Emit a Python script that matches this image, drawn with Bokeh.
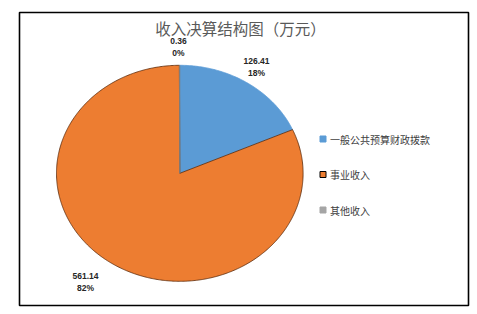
import numpy as np
from bokeh.plotting import figure
from bokeh.models import Range1d, ColumnDataSource, Label
from bokeh.core.properties import value
from bokeh.embed import file_html
from bokeh.resources import INLINE

# ---- data ----
categories = ["一般公共预算财政拨款", "事业收入", "其他收入"]
amounts = [126.41, 561.14, 0.36]
percent_labels = ["18%", "82%", "0%"]
amount_labels = ["126.41", "561.14", "0.36"]
colors = ["#5B9BD5", "#ED7D31", "#A5A5A5"]
edge_colors = ["#5B9BD5", "#5A2A0A", "#7F7F7F"]
title = "收入决算结构图（万元）"

# ---- layout (screen pixels; y grows downward) ----
W, H = 477, 314
cx, cy, rx, ry = 179.3, 172.8, 123.3, 108.0
label_pos = [(256, 66.5), (85, 281), (178, 46)]
leg_x, leg_y0, leg_dy = 322.5, 138.5, 35.5

p = figure(width=W, height=H, output_backend="svg", toolbar_location=None,
           x_range=Range1d(19, 468), y_range=Range1d(305, 12),
           min_border_left=19, min_border_top=12, min_border_right=9, min_border_bottom=9)
p.axis.visible = False
p.xgrid.visible = False
p.ygrid.visible = False
p.outline_line_color = "#000000"
p.outline_line_width = 1.6
p.background_fill_color = "white"
p.border_fill_color = "white"

total = float(sum(amounts))
start = 0.0
xs, ys = [], []
for a in amounts:
    end = start + 2 * np.pi * a / total
    n = max(3, int(np.ceil((end - start) / 0.01)))
    th = np.linspace(start, end, n)
    xs.append(list(np.concatenate([[cx], cx + rx * np.sin(th), [cx]])))
    ys.append(list(np.concatenate([[cy], cy - ry * np.cos(th), [cy]])))
    start = end

src = ColumnDataSource(dict(xs=xs, ys=ys, fill=colors, line=edge_colors))
p.patches("xs", "ys", source=src, fill_color="fill", line_color="line", line_width=0.8)

# data labels
for (lx, ly), am, pc in zip(label_pos, amount_labels, percent_labels):
    for k, t in enumerate([am, pc]):
        p.add_layout(Label(x=lx, y=ly - 6 + 12 * k, text=t, text_align="center",
                           text_baseline="middle", text_font="Liberation Sans",
                           text_font_style="bold",
                           text_font_size="8.5px", text_color="#262626"))

# title
p.add_layout(Label(x=240, y=27, text=title, text_align="center", text_baseline="middle",
                   text_font="Noto Sans CJK SC", text_font_size="15.5px", text_color="#595959"))

# legend
ly = [leg_y0 + leg_dy * i for i in range(len(categories))]
p.scatter([leg_x] * 3, ly, marker="square", size=6, fill_color=colors,
          line_color=["#5B9BD5", "#000000", "#A5A5A5"], line_width=1)
p.text([leg_x + 7] * 3, ly, text=categories, text_font=value("Noto Sans CJK SC"),
       text_font_size="10px", text_color="#404040", text_baseline="middle")

open("out.html", "w").write(file_html(p, INLINE))
